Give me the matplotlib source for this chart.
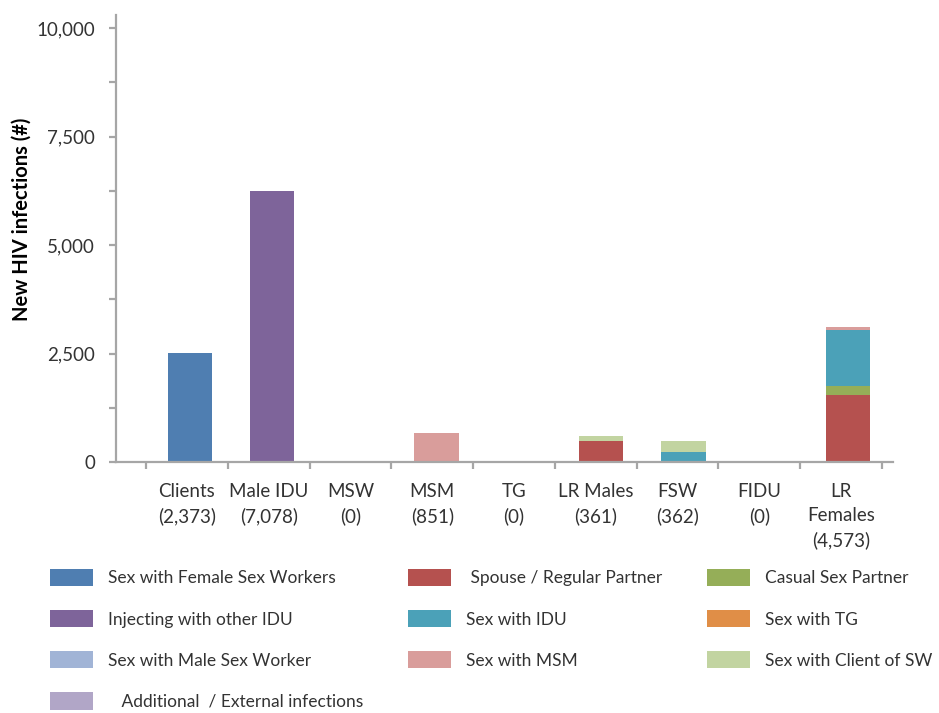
import numpy as np
import matplotlib
matplotlib.use("Agg")
import matplotlib.pyplot as plt
from matplotlib.patches import Patch
from matplotlib.ticker import MultipleLocator, FixedLocator, FuncFormatter

# categories along the x axis
categories = ["Clients\n(2,373)", "Male IDU\n(7,078)", "MSW\n(0)", "MSM\n(851)", "TG\n(0)",
              "LR Males\n(361)", "FSW\n(362)", "FIDU\n(0)", "LR\nFemales\n(4,573)"]

# stacked components, bottom to top (legend order)
components = ["Sex with Female Sex Workers", " Spouse / Regular Partner", "Casual Sex Partner",
              "Injecting with other IDU", "Sex with IDU", "Sex with TG",
              "Sex with Male Sex Worker", "Sex with MSM", "Sex with Client of SW",
              "   Additional  / External infections"]
colors = ["#4f7eb1", "#b5514f", "#95ae58", "#7e649a", "#4ba1b8", "#e08e47",
          "#a1b4d6", "#d99d9b", "#c2d4a1", "#b1a6c7"]

sex_fsw     = [2510, 0, 0, 0, 0, 0, 0, 0, 0]
spouse      = [0, 0, 0, 0, 0, 480, 0, 0, 1545]
casual      = [0, 0, 0, 0, 0, 0, 0, 0, 205]
inject_idu  = [0, 6240, 0, 0, 0, 0, 0, 0, 0]
sex_idu     = [0, 0, 0, 0, 0, 0, 230, 0, 1290]
sex_tg      = [0, 0, 0, 0, 0, 0, 0, 0, 0]
sex_msw     = [0, 0, 0, 0, 0, 0, 0, 0, 0]
sex_msm     = [0, 0, 0, 670, 0, 0, 0, 0, 70]
client_sw   = [0, 0, 0, 0, 0, 115, 250, 0, 0]
additional  = [0, 0, 0, 0, 0, 0, 0, 0, 0]

series = [sex_fsw, spouse, casual, inject_idu, sex_idu, sex_tg,
          sex_msw, sex_msm, client_sw, additional]

font = "Lato"
plt.rcParams["font.family"] = [font, "DejaVu Sans"]

fig = plt.figure(figsize=(9.39, 7.13), dpi=100)
W, H = 939, 713
ax = fig.add_axes([116 / W, (H - 462) / H, (893 - 116) / W, (462 - 15) / H])

x = np.arange(len(categories))
bottom = np.zeros(len(categories))
handles = []
for vals, lab, col in zip(series, components, colors):
    vals = np.array(vals, dtype=float)
    ax.bar(x, vals, width=0.54, bottom=bottom, color=col, linewidth=0)
    bottom += vals
    handles.append(Patch(facecolor=col, edgecolor="none", label=lab))

ax.set_xlim(-0.90, 8.55)
ax.set_ylim(0, 10300)

for s in ["top", "right"]:
    ax.spines[s].set_visible(False)
for s in ["left", "bottom"]:
    ax.spines[s].set_color("#a6a6a6")
    ax.spines[s].set_linewidth(1.6)

# x: boundaries as minor ticks, labels centered between them
bounds = [-0.535 + k * 0.9945 for k in range(10)]
centers = [(bounds[k] + bounds[k + 1]) / 2 for k in range(9)]
ax.xaxis.set_major_locator(FixedLocator(centers))
ax.set_xticklabels(categories)
ax.xaxis.set_minor_locator(FixedLocator(bounds))
ax.tick_params(axis="x", which="major", length=0, pad=15, labelsize=13.5, labelcolor="#333333")
ax.tick_params(axis="x", which="minor", length=5, width=1.6, color="#a6a6a6",
               direction="out", pad=0)
for t in ax.get_xticklabels():
    t.set_linespacing(1.5)

# y ticks
ax.yaxis.set_major_locator(MultipleLocator(2500))
ax.yaxis.set_minor_locator(MultipleLocator(1250))
ax.yaxis.set_major_formatter(FuncFormatter(lambda v, p: f"{int(v):,}"))
ax.tick_params(axis="y", which="both", length=5, width=1.6, color="#a6a6a6",
               direction="out")
ax.tick_params(axis="y", which="major", pad=10, labelsize=13.5, labelcolor="#333333")

ax.set_ylabel("New HIV infections (#)", fontsize=14.5, fontweight="bold", color="black")
ax.yaxis.set_label_coords(-0.108, 0.542)

# legend laid out row by row like the original (column-major fill)
order = [0, 3, 6, 9, 1, 4, 7, 2, 5, 8]
leg = fig.legend([handles[i] for i in order], [components[i] for i in order],
                 loc="upper left", bbox_to_anchor=(50 / W, 1 - 569 / H),
                 ncol=3, frameon=False, fontsize=12.5,
                 handlelength=2.47, handleheight=1.15, handletextpad=0.86,
                 labelspacing=1.36, columnspacing=2.6, borderpad=0, borderaxespad=0)
for t in leg.get_texts():
    t.set_color("#333333")

fig.savefig("out.png", dpi=100)
